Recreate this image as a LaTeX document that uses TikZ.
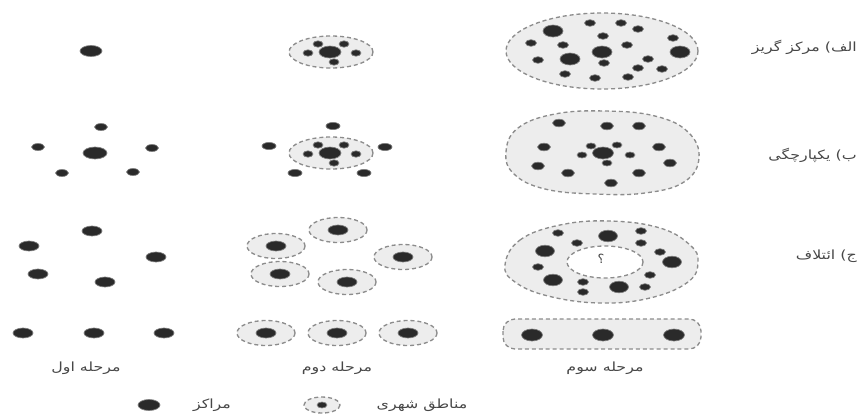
\documentclass[tikz,border=0pt]{standalone}
\usepackage{graphicx}
\usepackage{fontspec}
\newfontfamily\fa[Script=Arabic]{DejaVu Sans}
\TeXXeTstate=1
\definecolor{dotc}{HTML}{2A2A2A}
\definecolor{zonec}{HTML}{EDEDED}
\definecolor{dashc}{HTML}{8C8C8C}
\newcommand\dotE[3]{\fill[dotc,draw=dotc!60,line width=0.5pt] (#1) ellipse [x radius=#2,y radius=#3];}
\newcommand\wide[1]{\scalebox{1.25}[1]{#1}}
\begin{document}
\begin{tikzpicture}[x=0.75pt,y=-0.75pt,
  zone/.style={fill=zonec,draw=dashc,line width=1pt,dash pattern=on 3pt off 2.2pt},
  lbl/.style={font=\fa\fontsize{9.5}{11}\selectfont,text=black!72,inner sep=0pt}]
\useasboundingbox (0,0) rectangle (864,415);
% ---------- column 1 ----------
\dotE{91,51}{11}{5.5}
\dotE{95,153}{12}{6}
\foreach \p in {{101,127},{38,147},{152,148},{62,173},{133,172}} {\dotE{\p}{6.5}{3.5}}
\foreach \p in {{92,231},{29,246},{156,257},{38,274},{105,282},{23,333},{94,333},{164,333}} {\dotE{\p}{10}{5}}
% ---------- column 2 ----------
\foreach \c in {52,153} {
  \draw[zone] (331,\c) ellipse [x radius=42,y radius=16];
  \dotE{330,\c}{11}{6}
  \dotE{318,\c-8}{5}{3.2}
  \dotE{344,\c-8}{5}{3.2}
  \dotE{308,\c+1}{5}{3.2}
  \dotE{356,\c+1}{5}{3.2}
  \dotE{334,\c+10}{5}{3.2}
}
\foreach \p in {{333,126},{269,146},{385,147},{295,173},{364,173}} {\dotE{\p}{7}{3.6}}
\foreach \p in {{338,230},{276,246},{403,257},{280,274},{347,282},{266,333},{337,333},{408,333}} {
  \draw[zone] (\p) ellipse [x radius=29,y radius=12.5];
  \dotE{\p}{10}{5}
}
% ---------- column 3 row a ----------
\draw[zone] (602,51) ellipse [x radius=96,y radius=38];
\foreach \p in {{553,31},{602,52},{680,52},{570,59}} {\dotE{\p}{10}{6}}
\foreach \p in {{590,23},{621,23},{638,29},{673,38},{531,43},{563,45},{603,36},{627,45},{538,60},{604,63},{648,59},{638,68},{662,69},{565,74},{595,78},{628,77}} {\dotE{\p}{5.5}{3.3}}
% ---------- column 3 row b ----------
\draw[zone] plot[smooth cycle,tension=0.7] coordinates {(506,152) (518,128) (555,114) (605,111) (655,116) (688,132) (699,158) (684,182) (645,193) (595,194) (545,189) (514,174)};
\dotE{603,153}{10.5}{6}
\foreach \p in {{559,123},{607,126},{639,126},{544,147},{659,147},{538,166},{670,163},{568,173},{639,173},{611,183}} {\dotE{\p}{6.5}{3.8}}
\foreach \p in {{591,146},{617,145},{582,155},{630,155},{607,163}} {\dotE{\p}{5}{3}}
% ---------- column 3 row c ----------
\draw[zone] plot[smooth cycle,tension=0.7] coordinates {(505,265) (520,240) (560,225) (610,221) (660,228) (690,245) (698,262) (688,282) (650,298) (600,303) (548,296) (515,282)};
\draw[zone,fill=white] (605,262) ellipse [x radius=38,y radius=16];
\node[lbl] (q) at (601,259) {؟};
\foreach \p in {{608,236},{545,251},{672,262},{553,280},{619,287}} {\dotE{\p}{9.5}{5.8}}
\foreach \p in {{558,233},{641,231},{577,243},{641,243},{660,252},{538,267},{650,275},{583,282},{583,292},{645,287}} {\dotE{\p}{5.5}{3.3}}
% ---------- column 3 row d ----------
\draw[zone,rounded corners=9pt] (503,319) rectangle (701,349);
\foreach \p in {{532,335},{603,335},{674,335}} {\dotE{\p}{10.5}{6}}
% ---------- labels ----------
\node[lbl,anchor=east] (la) at (857,47) {\wide{\beginR الف) مرکز گریز\endR}};
\node[lbl,anchor=east] (lb) at (857,155) {\wide{\beginR ب) یکپارچگی\endR}};
\node[lbl,anchor=east] (lc) at (857,256) {\wide{\beginR ج) ائتلاف\endR}};
\node[lbl] (s1) at (86,368) {\wide{\beginR مرحله اول\endR}};
\node[lbl] (s2) at (337,368) {\wide{\beginR مرحله دوم\endR}};
\node[lbl] (s3) at (605,368) {\wide{\beginR مرحله سوم\endR}};
% ---------- legend ----------
\dotE{149,405}{11}{5.5}
\node[lbl] (l1) at (212,405) {\wide{\beginR مراکز\endR}};
\draw[zone] (322,405) ellipse [x radius=18,y radius=8];
\dotE{322,405}{5}{3}
\node[lbl] (l2) at (422,405) {\wide{\beginR مناطق شهری\endR}};
\end{tikzpicture}
\end{document}
